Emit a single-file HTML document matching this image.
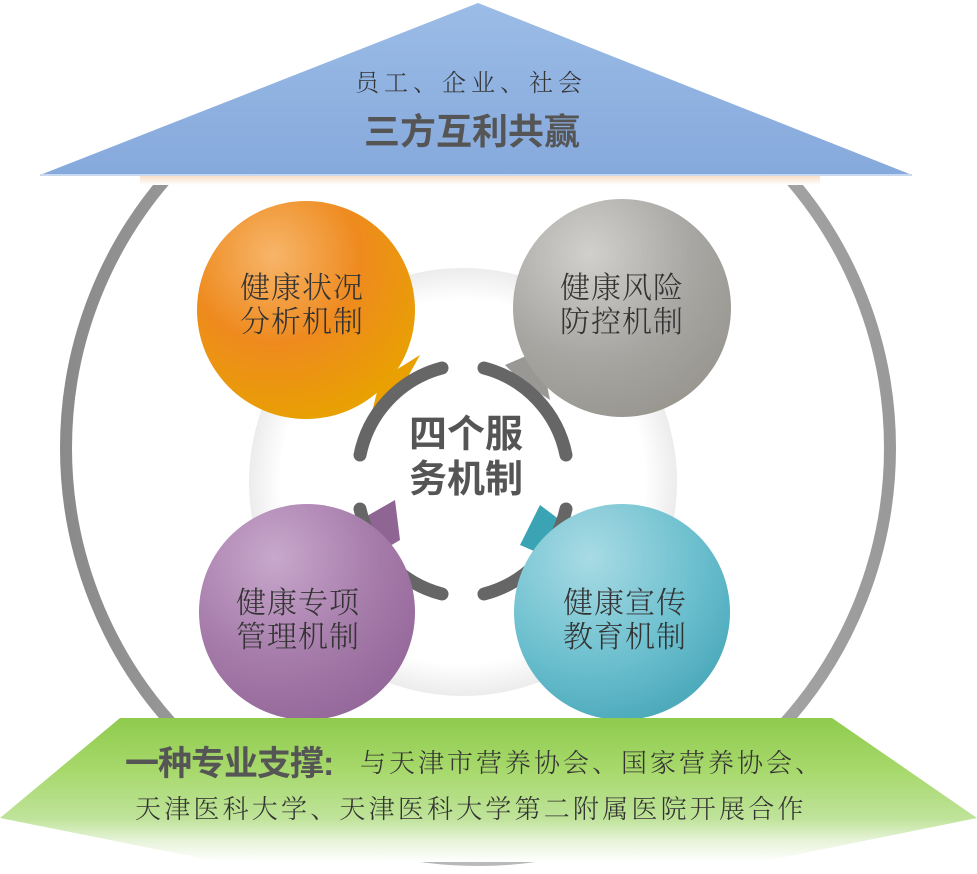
<!DOCTYPE html>
<html><head><meta charset="utf-8"><style>
html,body{margin:0;padding:0;background:#fff;}
svg{display:block;}
.s{font-family:"Noto Serif CJK SC","Liberation Serif",serif;fill:#333;font-weight:300;}
.b{font-family:"Liberation Sans","Noto Sans CJK SC",sans-serif;font-weight:bold;fill:#555;}
</style></head><body>
<svg width="977" height="874" viewBox="0 0 977 874" xmlns="http://www.w3.org/2000/svg">
<defs>
<radialGradient id="inner" cx="0.5" cy="0.5" r="0.5"><stop offset="0.85" stop-color="#fff"/><stop offset="1" stop-color="#ececec"/></radialGradient>
<linearGradient id="ring" x1="0" y1="0" x2="1" y2="0"><stop offset="0" stop-color="#8a8a8a"/><stop offset="0.5" stop-color="#bbb"/><stop offset="1" stop-color="#9a9a9a"/></linearGradient>
<radialGradient id="or" cx="0.35" cy="0.25" r="0.8"><stop offset="0" stop-color="#f7b56a"/><stop offset="0.5" stop-color="#ee8a1e"/><stop offset="1" stop-color="#e8a200"/></radialGradient>
<radialGradient id="gr" cx="0.35" cy="0.25" r="0.8"><stop offset="0" stop-color="#d2d0cc"/><stop offset="0.6" stop-color="#a8a6a2"/><stop offset="1" stop-color="#98968f"/></radialGradient>
<radialGradient id="pu" cx="0.35" cy="0.25" r="0.8"><stop offset="0" stop-color="#c8a8cc"/><stop offset="0.6" stop-color="#a57ba9"/><stop offset="1" stop-color="#94689a"/></radialGradient>
<radialGradient id="te" cx="0.35" cy="0.25" r="0.8"><stop offset="0" stop-color="#a8dbe4"/><stop offset="0.6" stop-color="#6ec0cf"/><stop offset="1" stop-color="#4aa9ba"/></radialGradient>
<linearGradient id="tri" x1="0" y1="0" x2="0" y2="1"><stop offset="0" stop-color="#9bbce6"/><stop offset="1" stop-color="#86a9dc"/></linearGradient>
<linearGradient id="grn" x1="0" y1="0" x2="0" y2="1"><stop offset="0" stop-color="#8fcb4e"/><stop offset="0.35" stop-color="#a6d86a"/><stop offset="0.7" stop-color="#bfe39a"/><stop offset="0.85" stop-color="#e6f3d8"/><stop offset="1" stop-color="#ffffff"/></linearGradient>
<linearGradient id="peach" x1="0" y1="0" x2="0" y2="1"><stop offset="0" stop-color="#f8dcc4"/><stop offset="1" stop-color="#fff"/></linearGradient>
<clipPath id="cl"><rect x="0" y="176" width="977" height="700"/></clipPath>
</defs>
<circle cx="478" cy="448" r="412" fill="none" stroke="url(#ring)" stroke-width="12" clip-path="url(#cl)"/>
<rect x="140" y="175" width="680" height="10" fill="url(#peach)"/>
<polygon points="478,3 40,175 912,175" fill="url(#tri)"/>
<line x1="40" y1="175" x2="912" y2="175" stroke="#c8d8ef" stroke-width="2"/>
<circle cx="463" cy="482" r="214" fill="url(#inner)"/>
<polygon points="380,380 420,355 395,400 370,420" fill="#e9a000"/>
<polygon points="505,365 540,350 550,400 520,380" fill="#9a9894"/>
<polygon points="360,520 395,500 400,540 375,555" fill="#8f6594"/>
<polygon points="540,505 560,520 555,560 520,545" fill="#3aa4b4"/>
<g fill="none" stroke="#666" stroke-width="13" stroke-linecap="round">
<path d="M 442 368 A 113 113 0 0 0 360 455"/>
<path d="M 484 368 A 113 113 0 0 1 566 455"/>
<path d="M 360 509 A 113 113 0 0 0 442 594"/>
<path d="M 566 509 A 113 113 0 0 1 484 594"/>
</g>
<circle cx="306" cy="310" r="109" fill="url(#or)"/>
<circle cx="622" cy="308" r="109" fill="url(#gr)"/>
<circle cx="307" cy="612" r="108" fill="url(#pu)"/>
<circle cx="622" cy="612" r="108" fill="url(#te)"/>
<text class="s" font-size="30" x="302" y="298" text-anchor="middle" letter-spacing="1">健康状况</text>
<text class="s" font-size="30" x="302" y="332" text-anchor="middle" letter-spacing="1">分析机制</text>
<text class="s" font-size="30" x="622" y="298" text-anchor="middle" letter-spacing="1">健康风险</text>
<text class="s" font-size="30" x="622" y="332" text-anchor="middle" letter-spacing="1">防控机制</text>
<text class="s" font-size="30" x="298" y="613" text-anchor="middle" letter-spacing="1">健康专项</text>
<text class="s" font-size="30" x="298" y="647" text-anchor="middle" letter-spacing="1">管理机制</text>
<text class="s" font-size="30" x="625" y="613" text-anchor="middle" letter-spacing="1">健康宣传</text>
<text class="s" font-size="30" x="625" y="647" text-anchor="middle" letter-spacing="1">教育机制</text>
<text class="b" font-size="38" x="466" y="447" text-anchor="middle">四个服</text>
<text class="b" font-size="38" x="466" y="492" text-anchor="middle">务机制</text>
<text class="s" font-size="24" x="471" y="91" text-anchor="middle" letter-spacing="5">员工、企业、社会</text>
<text class="b" font-size="36" x="472" y="144" text-anchor="middle" fill="#4d4d4d">三方互利共赢</text>
<polygon points="120,718 832,718 977,818 760,862 220,862 0,818" fill="url(#grn)"/>
<text class="b" font-size="34" x="125" y="775" fill="#555" letter-spacing="-1">一种专业支撑:</text>
<text class="s" font-size="26" x="360" y="772" letter-spacing="3">与天津市营养协会、国家营养协会、</text>
<text class="s" font-size="26" x="135" y="818" letter-spacing="3.2">天津医科大学、天津医科大学第二附属医院开展合作</text>
</svg>
</body></html>
